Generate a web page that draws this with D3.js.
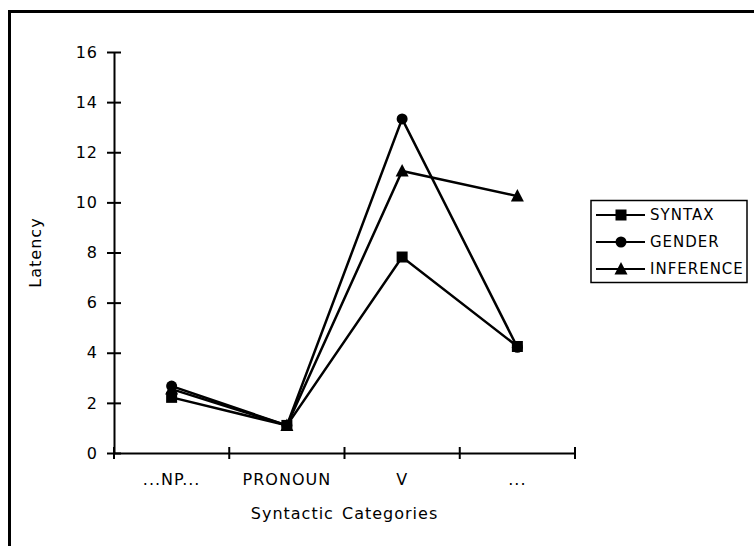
<!DOCTYPE html>
<html>
<head>
<meta charset="utf-8">
<script src="https://cdn.jsdelivr.net/npm/d3@7"></script>
<style>
  html, body { margin: 0; padding: 0; background: #fff; }
  svg { display: block; }
  text { font-family: "DejaVu Sans", Verdana, sans-serif; fill: #000; }
</style>
</head>
<body>
<svg id="chart" width="754" height="546"></svg>
<script>
const categories = ["...NP...", "PRONOUN", "V", "..."];
const seriesNames = ["SYNTAX", "GENDER", "INFERENCE"];
const syntaxValues = [2.22, 1.1, 7.82, 4.25];
const genderValues = [2.67, 1.1, 13.33, 4.22];
const inferenceValues = [2.55, 1.1, 11.25, 10.25];
const yTicks = [0, 2, 4, 6, 8, 10, 12, 14, 16];
const markers = ["square", "circle", "triangle"];

const series = [
  { name: seriesNames[0], values: syntaxValues, marker: markers[0] },
  { name: seriesNames[1], values: genderValues, marker: markers[1] },
  { name: seriesNames[2], values: inferenceValues, marker: markers[2] }
];

const svg = d3.select("#chart");

// outer border (extends past right/bottom edges)
svg.append("rect")
  .attr("x", 9.5).attr("y", 11.5)
  .attr("width", 800).attr("height", 600)
  .attr("fill", "none").attr("stroke", "#000").attr("stroke-width", 3);

const plot = { left: 114, right: 575, top: 52, bottom: 453 };

const x = d3.scaleBand().domain(categories).range([plot.left, plot.right]).padding(0);
const y = d3.scaleLinear().domain([0, 16]).range([plot.bottom, plot.top]);

// Y axis
const yAxis = d3.axisLeft(y).tickValues(yTicks).tickSize(0).tickPadding(16);
const yg = svg.append("g").attr("transform", `translate(${plot.left},0)`).call(yAxis);
yg.select(".domain").attr("stroke", "#000").attr("stroke-width", 2);
yg.selectAll(".tick text").attr("font-size", 16).attr("x", -16)
  .attr("font-family", "DejaVu Sans").attr("letter-spacing", 1);
yg.selectAll(".tick").append("line")
  .attr("x1", -7).attr("x2", 7).attr("stroke", "#000").attr("stroke-width", 2);

// X axis
const xAxis = d3.axisBottom(x).tickSize(0).tickPadding(21);
const xg = svg.append("g").attr("transform", `translate(0,${plot.bottom})`).call(xAxis);
xg.select(".domain").attr("stroke", "#000").attr("stroke-width", 2);
xg.selectAll(".tick text").attr("font-size", 16).attr("font-family", "DejaVu Sans").attr("letter-spacing", 1);
const xTickPos = categories.map(c => x(c)).concat([x(categories[categories.length - 1]) + x.bandwidth()]);
xg.selectAll(".xcross").data(xTickPos).enter().append("line")
  .attr("x1", d => d).attr("x2", d => d).attr("y1", -6).attr("y2", 6)
  .attr("stroke", "#000").attr("stroke-width", 2);

// axis titles
svg.append("text")
  .attr("x", (plot.left + plot.right) / 2).attr("y", 519)
  .attr("text-anchor", "middle").attr("font-size", 16)
  .attr("letter-spacing", 1).attr("word-spacing", 2)
  .text("Syntactic Categories");

svg.append("text")
  .attr("transform", `translate(41,${(plot.top + plot.bottom) / 2}) rotate(-90)`)
  .attr("text-anchor", "middle").attr("font-size", 16).attr("letter-spacing", 1)
  .text("Latency");

// lines
const line = d3.line()
  .x((d, i) => x(categories[i]) + x.bandwidth() / 2)
  .y(d => y(d));

function drawMarker(g, type, cx, cy) {
  if (type === "square") {
    g.append("rect").attr("x", cx - 5.5).attr("y", cy - 5.5).attr("width", 11).attr("height", 11).attr("fill", "#000");
  } else if (type === "circle") {
    g.append("circle").attr("cx", cx).attr("cy", cy).attr("r", 5.5).attr("fill", "#000");
  } else {
    g.append("path").attr("d", `M${cx},${cy - 7}L${cx + 6.5},${cy + 5.5}L${cx - 6.5},${cy + 5.5}Z`).attr("fill", "#000");
  }
}

const drawOrder = [2, 1, 0];
drawOrder.forEach(si => {
  const s = series[si];
  svg.append("path").attr("d", line(s.values))
    .attr("fill", "none").attr("stroke", "#000").attr("stroke-width", 2.5);
});
drawOrder.forEach(si => {
  const s = series[si];
  const g = svg.append("g");
  s.values.forEach((v, i) => drawMarker(g, s.marker, x(categories[i]) + x.bandwidth() / 2, y(v)));
});

// legend
const lg = svg.append("g");
lg.append("rect").attr("x", 591).attr("y", 200.5).attr("width", 156).attr("height", 82)
  .attr("fill", "#fff").attr("stroke", "#000").attr("stroke-width", 1.5);
const rowY = [215, 242, 269];
series.forEach((s, i) => {
  lg.append("line").attr("x1", 596).attr("x2", 645).attr("y1", rowY[i]).attr("y2", rowY[i])
    .attr("stroke", "#000").attr("stroke-width", 2);
  drawMarker(lg, s.marker, 621, rowY[i]);
  lg.append("text").attr("x", 650).attr("y", rowY[i]).attr("dy", "0.36em")
    .attr("font-size", 15).attr("letter-spacing", 1).text(s.name);
});
</script>
</body>
</html>
